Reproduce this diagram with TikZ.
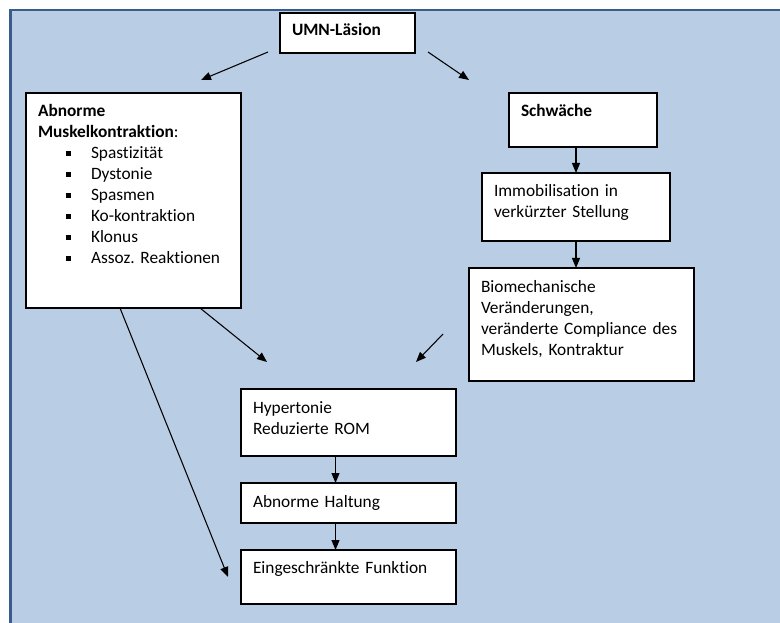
\documentclass[tikz,border=0pt]{standalone}
\usepackage{fontspec}
\setmainfont{Carlito}[Ligatures={NoCommon}]
\usetikzlibrary{arrows.meta,calc}
\definecolor{bgblue}{HTML}{B9CDE5}
\definecolor{bordblue}{HTML}{385D8A}
\newcommand{\sqbul}{\hspace*{21pt}\makebox[18.75pt][l]{\raisebox{2.4pt}{\rule{3.9pt}{3.6pt}}}}
\frenchspacing
\begin{document}
\begin{tikzpicture}[x=0.75pt,y=-0.75pt,
  box/.style n args={3}{draw=black, line width=0.8pt, fill=white, anchor=north west,
    inner xsep=9pt, inner ysep=0pt, outer sep=0pt, align=left,
    font=\fontsize{13pt}{15.75pt}\selectfont\frenchspacing,
    text width=#1, text height=#2, text depth=#3},
  arr/.style={-{Triangle[length=7.5pt,width=6pt]}, line width=0.8pt}]
\useasboundingbox (0,0) rectangle (780,623);
\fill[bgblue] (10,9) rectangle (780,623);
\draw[bordblue, line width=1.9pt] (10.3,623) -- (10.3,9.8) -- (780,9.8);

\node[box={83.25pt}{17.25pt}{12.75pt}] (umn) at (280,13) {\textbf{UMN-Läsion}};
\node[box={143.25pt}{18pt}{143.25pt}] (abn) at (26,93)
  {\textbf{Abnorme}\\\textbf{Muskelkontraktion}:\\
   \sqbul Spastizität\\
   \sqbul Dystonie\\
   \sqbul Spasmen\\
   \sqbul Ko-kontraktion\\
   \sqbul Klonus\\
   \sqbul Assoz. Reaktionen};
\node[box={93pt}{18pt}{22.5pt}] (schw) at (509,93) {\textbf{Schwäche}};
\node[box={123pt}{18pt}{33pt}] (immo) at (482,173) {Immobilisation in\\verkürzter Stellung};
\node[box={150.75pt}{18pt}{66.75pt}] (bio) at (469,268)
  {Biomechanische\\Veränderungen,\\\mbox{veränderte Compliance des}\\Muskels, Kontraktur};
\node[box={143.25pt}{18pt}{32.25pt}] (hyper) at (241,389) {Hypertonie\\Reduzierte ROM};
\node[box={143.25pt}{18pt}{12pt}] (halt) at (241,483) {Abnorme Haltung};
\node[box={143.25pt}{17.25pt}{23.25pt}] (eing) at (241,550) {Eingeschränkte Funktion};

% free ends
\coordinate (u1) at ($(umn.south west)+(-12,-1)$);
\coordinate (u1e) at (201,80);
\coordinate (u2) at ($(umn.south east)+(13,-1)$);
\coordinate (u2e) at (469,80);
\coordinate (a1) at ($(abn.south west)+(174,0)$);
\coordinate (a1e) at (267,362);
\coordinate (a2) at ($(abn.south west)+(94,0)$);
\coordinate (a2e) at (228,577);
\coordinate (b1) at (443,334);
\coordinate (b1e) at (416,362);

\draw[arr] (u1) -- (u1e);
\draw[arr] (u2) -- (u2e);
\draw[arr] (schw.south -| immo.north) -- (immo.north);
\draw[arr] (immo.south) -- (immo.south |- bio.north);
\draw[arr] (a1) -- (a1e);
\draw[arr] (b1) -- (b1e);
\draw[arr] (a2) -- (a2e);
\draw[arr] ($(hyper.south)+(-13,0)$) -- ($(halt.north)+(-13,0)$);
\draw[arr] ($(halt.south)+(-13,0)$) -- ($(eing.north)+(-13,0)$);
\end{tikzpicture}
\end{document}
